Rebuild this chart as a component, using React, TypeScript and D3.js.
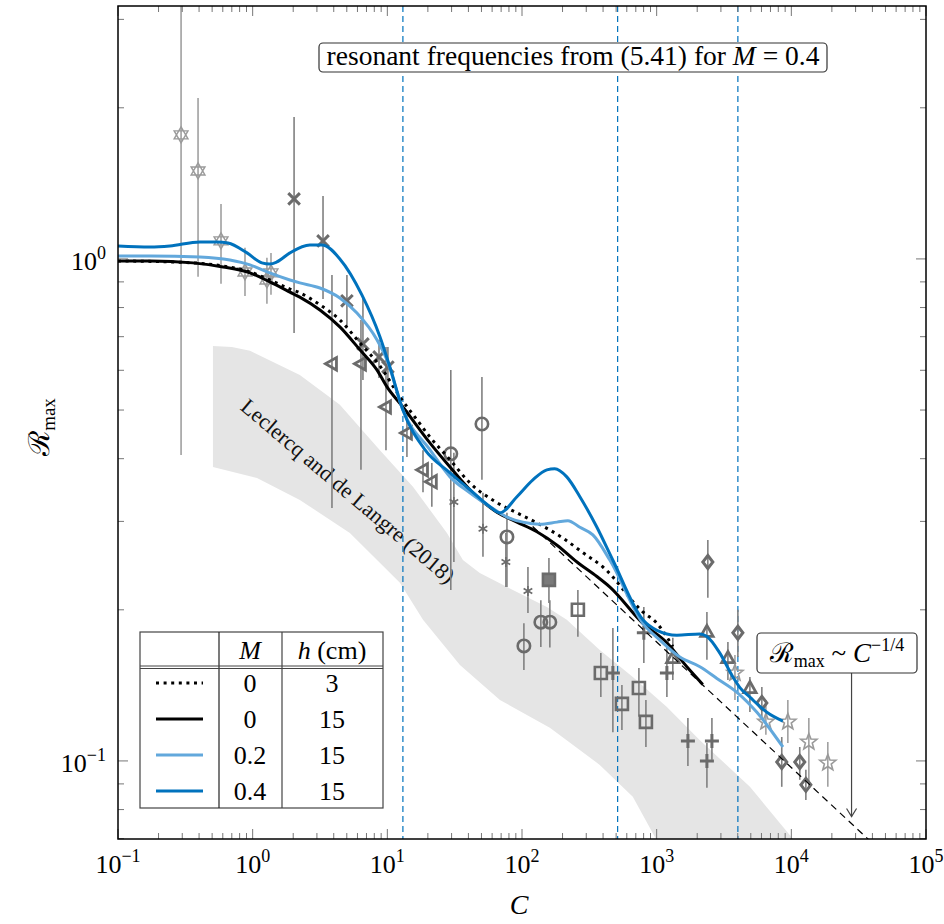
import React from 'react';
import * as d3 from 'd3';

const W = 944, H = 924;
const X0 = 118, X1 = 926, Y0 = 6, Y1 = 839;
const xDomain: [number, number] = [0.1, 1e5];
const yDomain: [number, number] = [0.0699, 3.19];

const xMajor = [0.1, 1, 10, 100, 1000, 10000, 100000];
const xMajorExp = ['−1', '0', '1', '2', '3', '4', '5'];
const yMajor = [0.1, 1];
const yMajorExp = ['−1', '0'];

// resonant frequencies (vertical dashed lines)
const resonantC = [13.05, 513, 4009];

// model curves [C, R]
const curveM04: [number, number][] = [[0.1,1.061],[0.173,1.056],[0.243,1.061],[0.406,1.081],[0.543,1.081],[0.656,1.076],[0.908,1.028],[1.17,0.982],[1.34,0.977],[1.51,0.986],[1.89,1.028],[2.66,1.066],[3.27,1.066],[4.44,1.0],[6.47,0.848],[8.81,0.70],[10.45,0.609],[13.05,0.50],[19.0,0.417],[29.2,0.375],[41.0,0.347],[57.8,0.321],[68.6,0.312],[91.7,0.336],[120.5,0.363],[153,0.380],[175,0.382],[215,0.368],[269,0.336],[360,0.292],[473,0.251],[790,0.191],[1004,0.182],[1413,0.178],[2094,0.179],[2361,0.177],[2946,0.164],[3681,0.147],[4150,0.140],[4924,0.134],[6580,0.125],[8650,0.120]];
const curveM02: [number, number][] = [[0.1,1.014],[0.173,1.014],[0.406,1.009],[0.678,0.995],[0.955,0.973],[1.28,0.942],[1.89,0.908],[2.24,0.896],[3.16,0.875],[4.44,0.836],[5.95,0.780],[8.37,0.690],[9.94,0.629],[13.05,0.50],[20.7,0.417],[29.2,0.368],[41.0,0.342],[57.8,0.321],[77.3,0.306],[101.6,0.299],[136,0.296],[182,0.299],[219,0.301],[269,0.292],[336,0.282],[450,0.251],[790,0.188],[1057,0.174],[1486,0.161],[2094,0.154],[2800,0.146],[3945,0.137],[5550,0.125],[8650,0.1066]];
const curveM0h15: [number, number][] = [[0.1,0.991],[0.173,0.991],[0.36,0.982],[0.603,0.964],[0.955,0.938],[1.34,0.900],[1.89,0.859],[2.24,0.839],[3.16,0.791],[4.44,0.732],[6.26,0.659],[8.37,0.601],[9.94,0.556],[13.05,0.507],[20.7,0.430],[29.2,0.385],[43.2,0.342],[65.1,0.313],[91.7,0.299],[129,0.286],[182,0.269],[256,0.249],[360,0.233],[450,0.222],[790,0.188],[1191,0.172],[1675,0.154],[2200,0.142]];
const curveM0h3: [number, number][] = [[0.1,0.991],[0.36,0.982],[0.603,0.968],[0.955,0.942],[1.34,0.908],[1.89,0.871],[2.24,0.856],[3.16,0.810],[4.44,0.756],[6.26,0.680],[8.81,0.612],[12.4,0.531],[16.6,0.478],[20.7,0.442],[29.2,0.398],[41.0,0.358],[65.1,0.327],[91.7,0.312],[129,0.298],[201,0.278],[283,0.260],[399,0.2434],[790,0.198],[1004,0.188],[1318,0.169]];

// power law R = A C^-1/4
const powA = 0.97;
const powRange: [number, number] = [120, 50000];

// Leclercq and de Langre (2018) band
const bandUpper: [number, number][] = [[0.507,0.671],[0.7,0.668],[0.955,0.656],[2.24,0.587],[4.44,0.512],[8.81,0.416],[15.5,0.3515],[27.7,0.2846],[36.4,0.2514],[48.6,0.2368],[85.5,0.219],[153,0.2027],[215,0.191],[378,0.1664],[665,0.147],[1191,0.128],[2094,0.110],[4924,0.0888],[10260,0.070],[19300,0.058]];
const bandLower: [number, number][] = [[0.507,0.385],[1.077,0.366],[2.24,0.331],[5.27,0.2846],[12.4,0.2263],[18.4,0.191],[34.6,0.1553],[68.6,0.1323],[161,0.1164],[378,0.0982],[665,0.0848],[986,0.070],[1253,0.0635]];

// experimental points [C, R, low, high]
const ptsHexagram: number[][] = [[0.294,1.766,0.407,3.3],[0.393,1.497,0.921,2.093],[0.582,1.086,0.892,1.287],[0.877,0.942,0.844,1.052],[1.276,0.908,0.814,1.005],[1.368,0.938,0.848,1.028]];
const ptsCross: number[][] = [[2.03,1.317,0.712,1.918],[3.33,1.086,0.832,1.335],[5.01,0.825,0.732,0.929],[6.59,0.677,0.574,0.840],[8.67,0.638,0.579,0.690],[10.1,0.609,0.548,0.668]];
const ptsTriLeft: number[][] = [[3.88,0.618,0.319,0.929],[6.37,0.618,0.380,0.756],[9.77,0.507,0.416,0.668],[13.98,0.450,0.403,0.5],[18.4,0.380,0.343,0.416],[21.4,0.360,0.321,0.392]];
const ptsCircle: number[][] = [[29.6,0.409,0.219,0.601],[50.4,0.469,0.363,0.582],[77.3,0.2794,0.222,0.312],[103.3,0.1695,0.1518,0.188],[138,0.189,0.1687,0.209],[161,0.189,0.1683,0.209]];
const ptsAsterisk: number[][] = [[31.2,0.328,0.249,0.411],[51.3,0.290,0.255,0.342],[75.9,0.249,0.222,0.2846],[110.7,0.218,0.197,0.2434]];
const ptsSquare: number[][] = [[158.5,0.2294,0.2064,0.2537],[260,0.200,0.1767,0.219],[385,0.1497,0.134,0.164],[552,0.1299,0.1153,0.1417],[738,0.1397,0.1224,0.1532],[832,0.1196,0.1066,0.1322]];
const ptsPlus: number[][] = [[473,0.1497,0.114,0.184],[803,0.180,0.1567,0.2027],[1191,0.1497,0.134,0.1687],[1706,0.1096,0.0977,0.1218],[2361,0.1,0.0884,0.1086],[2572,0.1096,0.1005,0.1218]];
const ptsTriUp: number[][] = [[1318,0.1603,0.145,0.176],[2361,0.1807,0.159,0.198],[3381,0.1603,0.145,0.1726],[4924,0.1397,0.1252,0.147]];
const ptsDiamond: number[][] = [[2399,0.249,0.2113,0.2756],[4009,0.180,0.161,0.200],[6040,0.1305,0.1207,0.1404],[8490,0.0995,0.0888,0.1116],[11550,0.0995,0.0917,0.1066],[12820,0.0896,0.0836,0.096]];
const ptsStar: number[][] = [[3813,0.1497,0.1323,0.1626],[6470,0.1196,0.1127,0.1322],[9420,0.1196,0.1086,0.1322],[13490,0.1091,0.0888,0.1218],[18660,0.0991,0.0888,0.1091]];

// legend table
const legendM = ['0', '0', '0.2', '0.4'];
const legendH = ['3', '15', '15', '15'];

const DARK = '#6b6b6b';
const LIGHT = '#9a9a9a';
const BLUE = '#0072BD';
const LBLUE = '#62a8dc';
const FONT = "'Liberation Serif', 'DejaVu Serif', serif";

function polyPath(pts: [number, number][]) {
  return 'M' + pts.map(p => p.join(',')).join('L') + 'Z';
}

function markerPath(type: string): string {
  switch (type) {
    case 'hex': {
      const r = 8;
      const t1 = [-90, 30, 150].map(a => [r * Math.cos(a * Math.PI / 180), r * Math.sin(a * Math.PI / 180)] as [number, number]);
      const t2 = [90, 210, 330].map(a => [r * Math.cos(a * Math.PI / 180), r * Math.sin(a * Math.PI / 180)] as [number, number]);
      return polyPath(t1) + polyPath(t2);
    }
    case 'star': {
      const ro = 8.5, ri = 3.6;
      const p: [number, number][] = [];
      for (let i = 0; i < 10; i++) {
        const a = -Math.PI / 2 + i * Math.PI / 5;
        const r = i % 2 === 0 ? ro : ri;
        p.push([r * Math.cos(a), r * Math.sin(a)]);
      }
      return polyPath(p);
    }
    case 'x': return 'M-5.8,-5.8L5.8,5.8M-5.8,5.8L5.8,-5.8';
    case 'plus': return 'M-7,0L7,0M0,-7L0,7';
    case 'ast': {
      const s = 5;
      let d = '';
      for (const a of [90, 30, 150]) {
        const c = Math.cos(a * Math.PI / 180) * s, sn = Math.sin(a * Math.PI / 180) * s;
        d += `M${-c},${-sn}L${c},${sn}`;
      }
      return d;
    }
    case 'triL': return polyPath([[-6.5, 0], [4.5, -6.2], [4.5, 6.2]]);
    case 'triU': return polyPath([[0, -6.5], [6.2, 4.5], [-6.2, 4.5]]);
    case 'diamond': return polyPath([[0, -6.5], [5, 0], [0, 6.5], [-5, 0]]);
    case 'square': return polyPath([[-6, -6], [6, -6], [6, 6], [-6, 6]]);
    case 'circle': return 'M6.2,0A6.2,6.2 0 1,1 -6.2,0A6.2,6.2 0 1,1 6.2,0Z';
  }
  return '';
}

export default function App() {
  const x = d3.scaleLog().domain(xDomain).range([X0, X1]);
  const y = d3.scaleLog().domain(yDomain).range([Y1, Y0]);
  const line = d3.line<[number, number]>().x(d => x(d[0])).y(d => y(d[1])).curve(d3.curveMonotoneX);
  const bandPts: [number, number][] = [...bandUpper, ...bandLower.slice().reverse()];
  const bandPath = 'M' + bandPts.map(d => `${x(d[0])},${y(d[1])}`).join('L') + 'Z';

  const xMinor: number[] = [];
  for (let e = -1; e < 5; e++) for (let k = 2; k <= 9; k++) xMinor.push(k * Math.pow(10, e));
  const yMinor: number[] = [];
  for (let e = -2; e < 1; e++) for (let k = 2; k <= 9; k++) {
    const v = k * Math.pow(10, e);
    if (v >= yDomain[0] && v <= yDomain[1]) yMinor.push(v);
  }

  const powPts: [number, number][] = [powRange[0], powRange[1]].map(c => [c, powA * Math.pow(c, -0.25)] as [number, number]);

  const groups = [
    { pts: ptsHexagram, type: 'hex', color: LIGHT, sw: 1.4, fill: 'none' },
    { pts: ptsCross, type: 'x', color: DARK, sw: 3, fill: 'none' },
    { pts: ptsTriLeft, type: 'triL', color: DARK, sw: 2.8, fill: 'none' },
    { pts: ptsCircle, type: 'circle', color: DARK, sw: 2.6, fill: 'none' },
    { pts: ptsAsterisk, type: 'ast', color: DARK, sw: 1.6, fill: 'none' },
    { pts: ptsSquare, type: 'square', color: DARK, sw: 2.6, fill: 'none' },
    { pts: ptsPlus, type: 'plus', color: DARK, sw: 3, fill: 'none' },
    { pts: ptsTriUp, type: 'triU', color: DARK, sw: 2.8, fill: 'none' },
    { pts: ptsDiamond, type: 'diamond', color: DARK, sw: 3, fill: 'none' },
    { pts: ptsStar, type: 'star', color: LIGHT, sw: 1.6, fill: 'none' },
  ];

  const legendRowsY = [683, 719, 755, 791];
  const legendStyles = [
    { stroke: '#000', dash: '3,4.6', w: 3 },
    { stroke: '#000', dash: undefined, w: 3 },
    { stroke: LBLUE, dash: undefined, w: 3 },
    { stroke: BLUE, dash: undefined, w: 3 },
  ];

  const arrowX = x(28000);
  const arrowTip = y(0.0775);

  return (
    <svg width={W} height={H} style={{ position: 'absolute', left: 0, top: 0, background: '#fff', fontFamily: FONT }}>
      <defs>
        <clipPath id="plot">
          <rect x={X0} y={Y0} width={X1 - X0} height={Y1 - Y0} />
        </clipPath>
      </defs>
      <rect x={0} y={0} width={W} height={H} fill="#fff" />
      <g clipPath="url(#plot)">
        <path d={bandPath} fill="#e5e5e5" stroke="none" />
        <text transform={`translate(348,491) rotate(40.3)`} textAnchor="middle" dominantBaseline="central" fontSize={22} fill="#111" style={{ fontFamily: FONT }}>Leclercq and de Langre (2018)</text>
        {resonantC.map((c, i) => (
          <line key={i} x1={x(c)} x2={x(c)} y1={Y0} y2={Y1} stroke={BLUE} strokeWidth={1.2} strokeDasharray="6,4" />
        ))}
        {/* error bars */}
        {groups.map((g, gi) => g.pts.map((p, i) => (
          <line key={`e${gi}-${i}`} x1={x(p[0])} x2={x(p[0])} y1={y(p[2])} y2={y(p[3])} stroke={g.color === LIGHT ? '#a0a0a0' : '#808080'} strokeWidth={1.6} />
        )))}
        {/* markers */}
        {groups.map((g, gi) => g.pts.map((p, i) => (
          <path key={`m${gi}-${i}`} transform={`translate(${x(p[0])},${y(p[1])})`} d={markerPath(g.type)} fill={gi === 5 && i === 0 ? '#7a7a7a' : g.fill} stroke={g.color} strokeWidth={g.sw} strokeLinejoin="miter" />
        )))}
        {/* power law */}
        <path d={d3.line<[number, number]>().x(d => x(d[0])).y(d => y(d[1]))(powPts) || ''} fill="none" stroke="#000" strokeWidth={1.2} strokeDasharray="7,5" />
        {/* model curves */}
        <path d={line(curveM0h3) || ''} fill="none" stroke="#000" strokeWidth={3} strokeDasharray="3,4.6" />
        <path d={line(curveM0h15) || ''} fill="none" stroke="#000" strokeWidth={3} />
        <path d={line(curveM02) || ''} fill="none" stroke={LBLUE} strokeWidth={3} />
        <path d={line(curveM04) || ''} fill="none" stroke={BLUE} strokeWidth={3} />
      </g>

      {/* ticks */}
      <g stroke="#777" strokeWidth={1}>
        {xMinor.map((v, i) => (
          <g key={`xm${i}`}>
            <line x1={x(v)} x2={x(v)} y1={Y1} y2={Y1 - 6} />
            <line x1={x(v)} x2={x(v)} y1={Y0} y2={Y0 + 6} />
          </g>
        ))}
        {xMajor.map((v, i) => (
          <g key={`xM${i}`}>
            <line x1={x(v)} x2={x(v)} y1={Y1} y2={Y1 - 10} />
            <line x1={x(v)} x2={x(v)} y1={Y0} y2={Y0 + 10} />
          </g>
        ))}
        {yMinor.map((v, i) => (
          <g key={`ym${i}`}>
            <line x1={X0} x2={X0 + 6} y1={y(v)} y2={y(v)} />
            <line x1={X1} x2={X1 - 6} y1={y(v)} y2={y(v)} />
          </g>
        ))}
        {yMajor.map((v, i) => (
          <g key={`yM${i}`}>
            <line x1={X0} x2={X0 + 10} y1={y(v)} y2={y(v)} />
            <line x1={X1} x2={X1 - 10} y1={y(v)} y2={y(v)} />
          </g>
        ))}
      </g>
      <rect x={X0} y={Y0} width={X1 - X0} height={Y1 - Y0} fill="none" stroke="#000" strokeWidth={1.5} />

      {/* tick labels */}
      {xMajor.map((v, i) => (
        <text key={`xl${i}`} x={x(v)} y={873} textAnchor="middle" fontSize={26} fill="#000">
          10<tspan dy={-11} fontSize={18}>{xMajorExp[i]}</tspan>
        </text>
      ))}
      {yMajor.map((v, i) => (
        <text key={`yl${i}`} x={106} y={y(v) + 11} textAnchor="end" fontSize={26} fill="#000">
          10<tspan dy={-11} fontSize={18}>{yMajorExp[i]}</tspan>
        </text>
      ))}

      {/* axis labels */}
      <text x={519} y={914} textAnchor="middle" fontSize={28} fontStyle="italic" fill="#000">C</text>
      <text transform="translate(49,427) rotate(-90)" textAnchor="middle" fontSize={29} fill="#000">
        ℛ<tspan dy={6} fontSize={19}>max</tspan>
      </text>

      {/* top annotation */}
      <rect x={319} y={43} width={508} height={29} rx={4} fill="#fff" stroke="#333" strokeWidth={1.2} />
      <text x={573} y={65} textAnchor="middle" fontSize={27.5} fill="#000">
        resonant frequencies from (5.41) for <tspan fontStyle="italic">M</tspan> = 0.4
      </text>

      {/* power law annotation */}
      <line x1={arrowX} x2={arrowX} y1={673} y2={arrowTip} stroke="#444" strokeWidth={1.2} />
      <path d={`M${arrowX - 5},${arrowTip - 8}L${arrowX},${arrowTip}L${arrowX + 5},${arrowTip - 8}`} fill="none" stroke="#444" strokeWidth={1.2} />
      <rect x={757} y={633} width={160} height={40} rx={4} fill="#fff" stroke="#333" strokeWidth={1.2} />
      <text x={837} y={662} textAnchor="middle" fontSize={27} fill="#000">
        ℛ<tspan dy={5} fontSize={18}>max</tspan><tspan dy={-5}> ~ </tspan><tspan fontStyle="italic">C</tspan><tspan dy={-11} fontSize={18}>−1/4</tspan>
      </text>

      {/* legend table */}
      <g>
        <rect x={140} y={632} width={243} height={176} fill="#fff" stroke="#444" strokeWidth={1.2} />
        <line x1={219} x2={219} y1={632} y2={808} stroke="#222" strokeWidth={1.2} />
        <line x1={282} x2={282} y1={632} y2={808} stroke="#444" strokeWidth={1.2} />
        <line x1={140} x2={383} y1={666} y2={666} stroke="#444" strokeWidth={1} />
        <line x1={140} x2={383} y1={668.5} y2={668.5} stroke="#444" strokeWidth={1} />
        <text x={250} y={659} textAnchor="middle" fontSize={26} fontStyle="italic">M</text>
        <text x={332} y={659} textAnchor="middle" fontSize={26}><tspan fontStyle="italic">h</tspan> (cm)</text>
        {legendRowsY.map((ry, i) => (
          <g key={`lg${i}`}>
            <line x1={156} x2={203} y1={ry} y2={ry} stroke={legendStyles[i].stroke} strokeWidth={legendStyles[i].w} strokeDasharray={legendStyles[i].dash} />
            <text x={250} y={ry + 9} textAnchor="middle" fontSize={26}>{legendM[i]}</text>
            <text x={332} y={ry + 9} textAnchor="middle" fontSize={26}>{legendH[i]}</text>
          </g>
        ))}
      </g>
    </svg>
  );
}
